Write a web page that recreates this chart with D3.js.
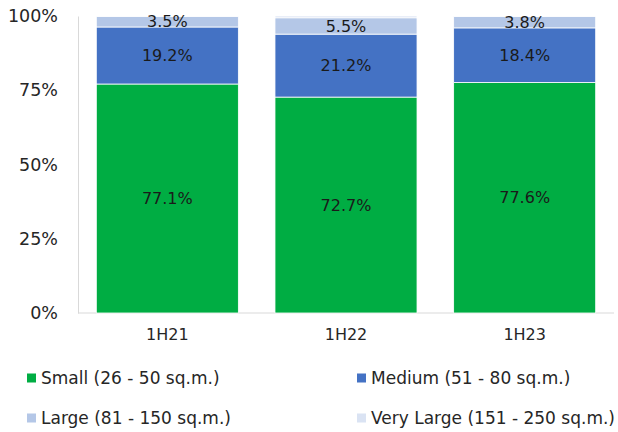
<!DOCTYPE html>
<html>
<head>
<meta charset="utf-8">
<script src="https://cdn.jsdelivr.net/npm/d3@7"></script>
<style>
  body { margin: 0; background: #fff; }
  svg { display: block; font-family: "DejaVu Sans", sans-serif; }
</style>
</head>
<body>
<div id="chart"></div>
<script>
// données
const categories = ["1H21", "1H22", "1H23"];
const seriesNames = ["Small (26 - 50 sq.m.)", "Medium (51 - 80 sq.m.)", "Large (81 - 150 sq.m.)", "Very Large (151 - 250 sq.m.)"];
const small = [77.1, 72.7, 77.6];
const medium = [19.2, 21.2, 18.4];
const large = [3.5, 5.5, 3.8];
const veryLarge = [0.2, 0.6, 0.2];
const yTicks = [0, 25, 50, 75, 100];

const colors = ["#00ad43", "#4472c4", "#b4c7e7", "#dae3f3"];

const width = 618;
const height = 432;
const margin = { top: 16, right: 4, bottom: 119, left: 78 };

const svg = d3.select("#chart").append("svg")
  .attr("width", width)
  .attr("height", height);

const x = d3.scaleBand()
  .domain(categories)
  .range([margin.left, width - margin.right])
  .paddingInner(0.205)
  .paddingOuter(0.1025);

const y = d3.scaleLinear()
  .domain([0, 100])
  .range([height - margin.bottom, margin.top]);

// table pour la pile
const table = categories.map((c, i) => ({
  cat: c, s0: small[i], s1: medium[i], s2: large[i], s3: veryLarge[i]
}));
const keys = ["s0", "s1", "s2", "s3"];
const stacked = d3.stack().keys(keys)(table);

// axes
const gx = svg.append("g")
  .attr("transform", `translate(0,${y(0)})`)
  .call(d3.axisBottom(x).tickSize(0).tickPadding(16));
gx.select(".domain").attr("stroke", "#d9d9d9").attr("d", `M${margin.left},0H${width - 4}`);
gx.selectAll("text").attr("font-size", 16).attr("fill", "#262626").attr("font-family", "DejaVu Sans");

const gy = svg.append("g")
  .attr("transform", `translate(${margin.left},0)`)
  .call(d3.axisLeft(y).tickValues(yTicks).tickFormat(d => d + "%").tickSize(0).tickPadding(20));
gy.select(".domain").attr("stroke", "#d9d9d9");
gy.selectAll("text").attr("font-size", 17.5).attr("fill", "#262626").attr("font-family", "DejaVu Sans");

// barres
const layers = svg.append("g").selectAll("g")
  .data(stacked)
  .join("g")
  .attr("fill", (d, i) => colors[i]);

layers.selectAll("rect")
  .data(d => d)
  .join("rect")
  .attr("x", d => x(d.data.cat))
  .attr("width", x.bandwidth())
  .attr("y", d => y(d[1]))
  .attr("height", d => y(d[0]) - y(d[1]))
  .attr("stroke", "#fff")
  .attr("stroke-width", 0.8);

// étiquettes (sauf Very Large)
stacked.slice(0, 3).forEach(layer => {
  svg.append("g").selectAll("text")
    .data(layer)
    .join("text")
    .attr("x", d => x(d.data.cat) + x.bandwidth() / 2)
    .attr("y", d => (y(d[0]) + y(d[1])) / 2)
    .attr("dy", "0.35em")
    .attr("text-anchor", "middle")
    .attr("font-size", 16)
    .attr("fill", "#1a1a1a")
    .text(d => (d[1] - d[0]).toFixed(1) + "%");
});

// légende
const legendPos = [[27, 378], [357, 378], [27, 418], [357, 418]];
const legend = svg.append("g").selectAll("g")
  .data(seriesNames)
  .join("g")
  .attr("transform", (d, i) => `translate(${legendPos[i][0]},${legendPos[i][1]})`);

legend.append("rect")
  .attr("x", 0).attr("y", -4.5)
  .attr("width", 9).attr("height", 9)
  .attr("fill", (d, i) => colors[i]);

legend.append("text")
  .attr("x", 14)
  .attr("dy", "0.35em")
  .attr("font-size", 17)
  .attr("fill", "#262626")
  .text(d => d);
</script>
</body>
</html>
